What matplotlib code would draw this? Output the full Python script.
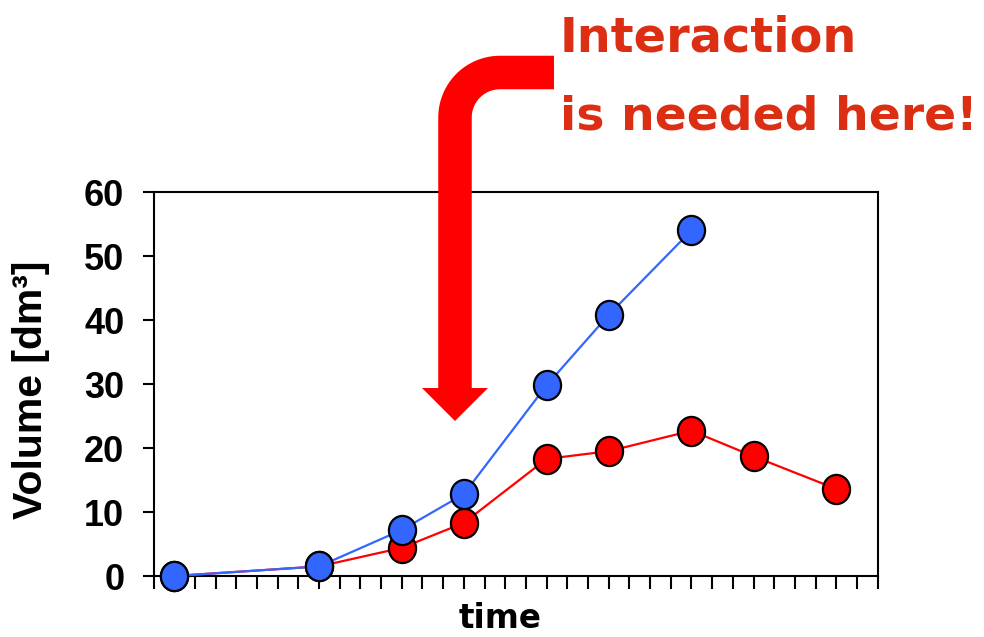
import numpy as np
import matplotlib
matplotlib.use('Agg')
import matplotlib.pyplot as plt
from matplotlib.path import Path
from matplotlib.patches import PathPatch, Polygon
from matplotlib.transforms import Affine2D

# data
blue_t = [1, 8, 12, 15, 19, 22, 26]
blue_v = [0, 1.5, 7.2, 12.8, 29.8, 40.8, 54.0]
red_t = [1, 8, 12, 15, 19, 22, 26, 29, 33]
red_v = [0, 1.5, 4.4, 8.3, 18.3, 19.5, 22.7, 18.7, 13.6]
y_ticks = [0, 10, 20, 30, 40, 50, 60]

W, H = 984, 637
fig = plt.figure(figsize=(W / 100, H / 100), dpi=100)
ax = fig.add_axes([153.5 / W, 1 - 576 / H, (877.7 - 153.5) / W, (576 - 192) / H])

# slightly tall ellipse marker
oval = Path.unit_circle().transformed(Affine2D().scale(0.93, 1.0))

ax.plot(red_t, red_v, color='#ff0000', lw=1.6, marker=oval, markersize=21,
        markerfacecolor='#ff0000', markeredgecolor='black', markeredgewidth=1.6,
        clip_on=False, zorder=3)
ax.plot(blue_t, blue_v, color='#3366ff', lw=1.6, marker=oval, markersize=21,
        markerfacecolor='#3366ff', markeredgecolor='black', markeredgewidth=1.6,
        clip_on=False, zorder=4)

ax.set_xlim(0, 35)
ax.set_ylim(0, 60)
ax.set_xticks(np.arange(0, 36))
ax.set_xticklabels([])
ax.set_yticks(y_ticks)
ax.set_yticklabels([str(v) for v in y_ticks], fontsize=26, fontweight='bold',
                   family='Liberation Sans')
ax.tick_params(axis='x', direction='out', length=9, width=1.5, color='black')
ax.tick_params(axis='y', direction='out', length=8, width=1.5, color='black', pad=13)
for s in ax.spines.values():
    s.set_linewidth(1.5)

fig.text(31 / W, 1 - 390 / H, 'Volume [dm³]', fontsize=29.5, fontweight='bold',
         family='Liberation Sans', rotation=90, ha='center', va='center')

fig.text(500 / W, 1 - 619 / H, 'time', fontsize=23.5, fontweight='bold',
         family='DejaVu Sans', ha='center', va='center')

# annotation text
red_txt = '#dc2e12'
fig.text(560 / W, 1 - 52 / H, 'Interaction', fontsize=34.5, fontweight='bold',
         family='DejaVu Sans', color=red_txt, ha='left', va='baseline')
fig.text(560 / W, 1 - 130 / H, 'is needed here!', fontsize=34, fontweight='bold',
         family='DejaVu Sans', color=red_txt, ha='left', va='baseline')

# bent arrow, drawn in pixel coordinates (y downwards)
px = Affine2D().scale(1 / W, -1 / H).translate(0, 1) + fig.transFigure
r = 45
cx, cy = 455 + r, 72.5 + r
ang = np.linspace(np.pi / 2, np.pi, 30)
arc_x = cx + r * np.cos(ang)
arc_y = cy - r * np.sin(ang)
xs = np.concatenate([[554], arc_x, [455]])
ys = np.concatenate([[72.5], arc_y, [392]])
shaft = PathPatch(Path(np.column_stack([xs, ys])), fill=False,
                  edgecolor='#ff0000', lw=33.5 * 72 / 100, capstyle='butt',
                  joinstyle='miter', transform=px, zorder=10)
fig.add_artist(shaft)
head = Polygon([[422, 388], [488, 388], [455, 421]], closed=True,
               facecolor='#ff0000', edgecolor='none', transform=px, zorder=10)
fig.add_artist(head)

fig.savefig('out.png', dpi=100)
